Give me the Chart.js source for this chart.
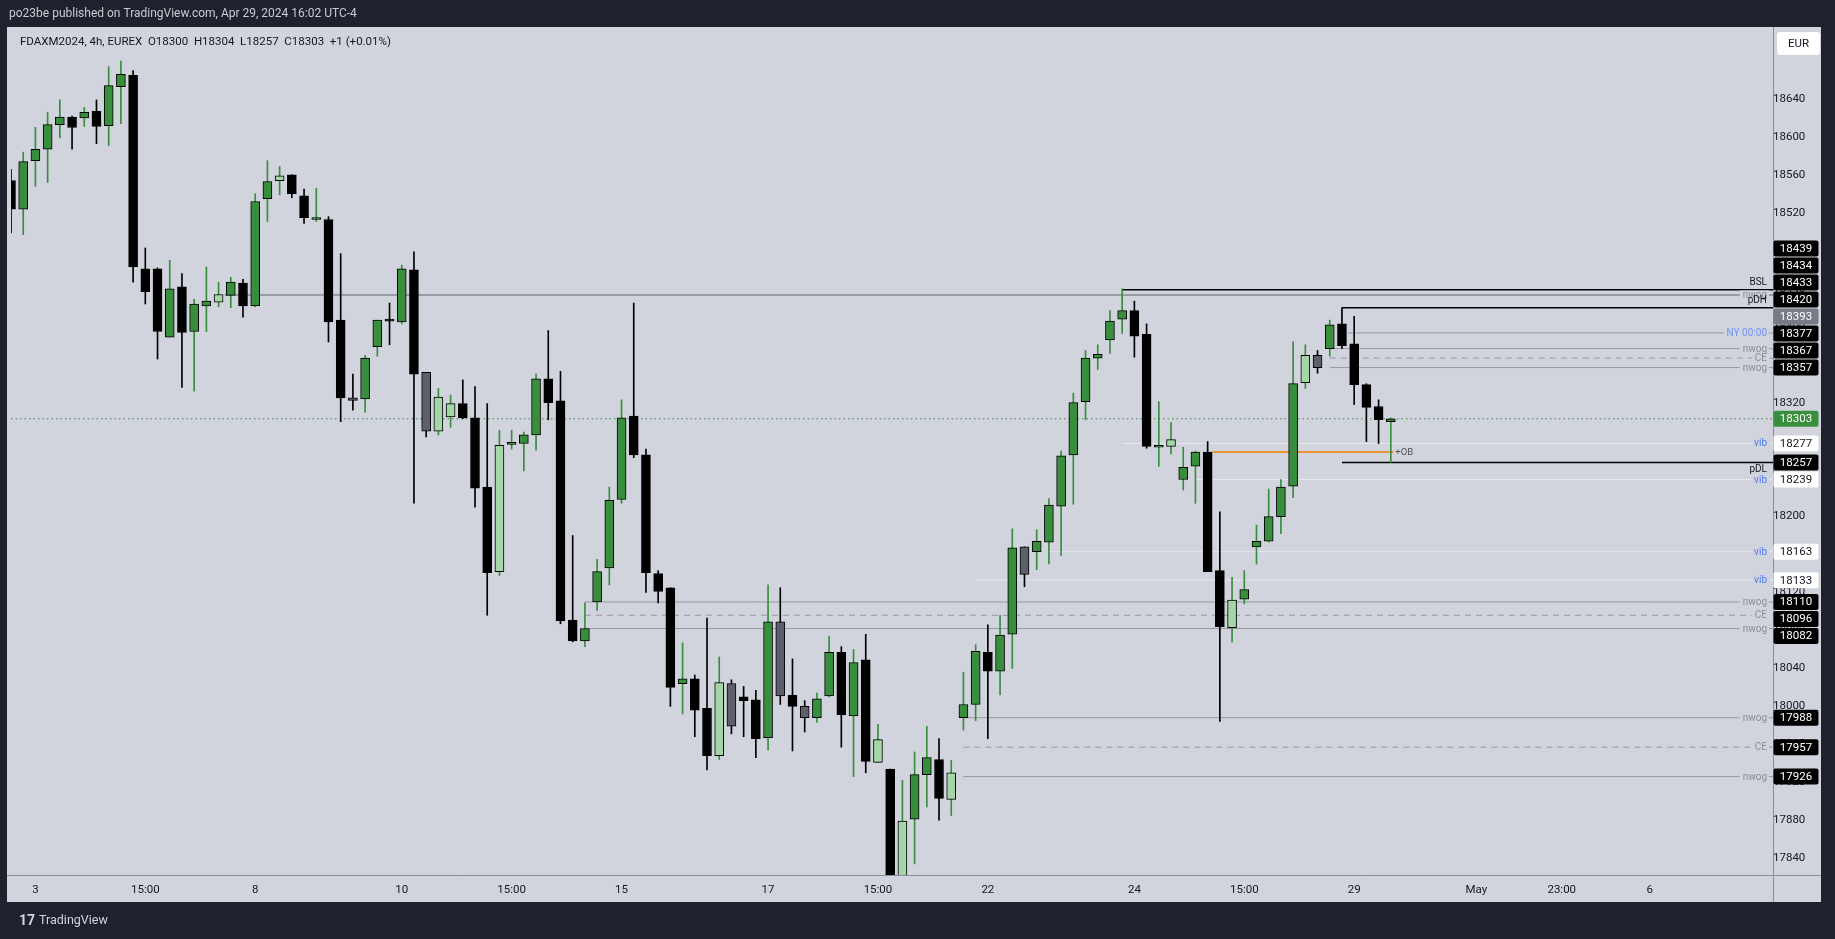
<!DOCTYPE html>
<html>
<head>
<meta charset="utf-8">
<title>FDAXM2024, 4h, EUREX</title>
<script src="https://cdn.jsdelivr.net/npm/chart.js@4.4.1/dist/chart.umd.min.js"></script>
<style>
  html, body { margin: 0; padding: 0; background: #1e222d; overflow: hidden; }
  canvas { display: block; }
</style>
</head>
<body>
<canvas id="chart" width="1835" height="939"></canvas>
<script>
// 4h candles, Apr 2 (last bar) .. Apr 29 2024
const opens = [
  18554, 18524, 18575, 18587, 18613, 18621, 18620, 18627, 18612, 18653,
  18665, 18461, 18461, 18389, 18442, 18395, 18422, 18426, 18433, 18446,
  18422, 18535, 18554, 18560, 18538, 18513, 18513, 18407, 18325, 18324,
  18379, 18407, 18405, 18460, 18352, 18290, 18305, 18319, 18304, 18231,
  18142, 18276, 18277, 18286, 18345, 18322, 18091, 18069, 18110, 18146,
  18218, 18306, 18265, 18140, 18125, 18024, 18029, 17998, 17948, 18024,
  18010, 18007, 17967, 18089, 18012, 18000, 17988, 18011, 18057, 17990,
  18049, 17941, 17934, 17815, 17881, 17928, 17944, 17902, 17988, 18002,
  18057, 18037, 18076, 18168, 18163, 18173, 18211, 18265, 18321, 18367,
  18386, 18408, 18417, 18392, 18273, 18274, 18239, 18253, 18268, 18143,
  18083, 18113, 18168, 18174, 18200, 18232, 18341, 18370, 18377, 18403,
  18382, 18339, 18316, 18300
];
const highs = [
  18566, 18584, 18610, 18626, 18639, 18622, 18631, 18639, 18674, 18680,
  18670, 18483, 18462, 18470, 18456, 18429, 18463, 18447, 18452, 18450,
  18540, 18575, 18569, 18560, 18545, 18546, 18516, 18477, 18350, 18370,
  18407, 18425, 18465, 18479, 18352, 18335, 18328, 18344, 18337, 18319,
  18291, 18291, 18289, 18350, 18396, 18353, 18180, 18109, 18155, 18231,
  18323, 18425, 18271, 18143, 18125, 18067, 18033, 18093, 18052, 18028,
  18021, 18017, 18128, 18125, 18050, 18006, 18014, 18074, 18063, 18060,
  18076, 17981, 17934, 17922, 17952, 17979, 17966, 17943, 18036, 18065,
  18086, 18096, 18187, 18168, 18186, 18219, 18269, 18330, 18375, 18381,
  18417, 18440, 18427, 18403, 18321, 18299, 18273, 18269, 18279, 18205,
  18136, 18143, 18191, 18229, 18239, 18384, 18381, 18375, 18407, 18420,
  18411, 18340, 18323, 18304
];
const lows = [
  18499, 18497, 18548, 18552, 18599, 18587, 18611, 18593, 18591, 18614,
  18447, 18424, 18366, 18389, 18336, 18332, 18395, 18421, 18420, 18410,
  18421, 18511, 18539, 18536, 18509, 18511, 18384, 18300, 18312, 18310,
  18369, 18381, 18403, 18214, 18284, 18286, 18294, 18303, 18210, 18096,
  18138, 18271, 18248, 18270, 18302, 18087, 18068, 18063, 18101, 18128,
  18214, 18262, 18120, 18109, 18000, 17992, 17968, 17933, 17944, 17971,
  17968, 17946, 17954, 18002, 17953, 17973, 17983, 18010, 17957, 17926,
  17930, 17941, 17800, 17805, 17834, 17894, 17880, 17885, 17975, 17985,
  17966, 18012, 18040, 18126, 18144, 18150, 18159, 18213, 18302, 18355,
  18372, 18393, 18368, 18272, 18253, 18266, 18228, 18214, 18142, 17984,
  18068, 18108, 18150, 18173, 18182, 18220, 18335, 18351, 18369, 18377,
  18318, 18279, 18277, 18257
];
const closes = [
  18524, 18574, 18587, 18613, 18621, 18610, 18626, 18611, 18654, 18666,
  18463, 18437, 18395, 18440, 18394, 18424, 18427, 18434, 18447, 18422,
  18532, 18553, 18559, 18540, 18515, 18513.5, 18405, 18325, 18322.5, 18367,
  18407, 18406, 18461, 18350, 18290, 18326, 18319, 18304, 18230, 18141,
  18275, 18276.5, 18286, 18345, 18320, 18090, 18069, 18082, 18142, 18217,
  18304, 18265, 18141, 18121, 18020, 18029, 17996, 17948, 18025, 17979,
  18006, 17966, 18089, 18011, 18000, 17988, 18008, 18057, 17991, 18046,
  17942, 17965, 17815, 17879, 17928, 17946, 17903, 17930, 18002, 18058,
  18037, 18075, 18167, 18139, 18174, 18212, 18264, 18320, 18367, 18371,
  18406, 18417, 18390, 18274, 18275, 18281, 18252, 18268, 18142, 18084,
  18112, 18123, 18174, 18200, 18231, 18340, 18370, 18357, 18402, 18380,
  18339, 18315, 18302, 18303
];
// inside bars get the pale colours
const insideUp = [17, 22, 35, 36, 40, 58, 71, 73, 77, 95, 100, 106];
const insideDown = [28, 34, 59, 63, 65, 83, 107];

// time axis (bar index) and price axis ticks
const xTickPos = [2, 11, 20, 32, 41, 50, 62, 71, 80, 92, 101, 110, 120, 127, 134.2];
const xTickText = ['3', '15:00', '8', '10', '15:00', '15', '17', '15:00', '22', '24', '15:00', '29', 'May', '23:00', '6'];
const yTicks = [17840, 17880, 17920, 17960, 18000, 18040, 18080, 18120, 18160, 18200, 18240, 18280,
  18320, 18360, 18400, 18440, 18480, 18520, 18560, 18600, 18640];

// drawn levels: price, first bar
const nwogPrices = [18434, 18433, 18377, 18357, 18110, 18082, 17988, 17926];
const nwogStarts = [17.5, 17.5, 108, 108, 47, 47, 78, 78];
const nwogLabelled = [false, true, true, true, true, true, true, true];
const cePrices = [18367, 18096, 17957];
const ceStarts = [108, 47, 78];
const vibPrices = [18277, 18239, 18163, 18133];
const vibStarts = [91, 97, 85, 79];
const keyNames = ['BSL', 'pDH', 'pDL'];
const keyPrices = [18439, 18420, 18257];
const keyStarts = [91, 109, 109];
const keySide = ['above', 'above', 'below'];
const nyPrice = 18393.5;
const nyStart = 109.5;
const obPrice = 18268;
const obStart = 98.4;
const obEnd = 113.2;
const lastPrice = 18303;

// price-axis badges
const badgePrices = [18439, 18434, 18433, 18420, 18393, 18377, 18367, 18357, 18303, 18277,
  18257, 18239, 18163, 18133, 18110, 18096, 18082, 17988, 17957, 17926];
const badgeKinds = ['dark', 'dark', 'dark', 'dark', 'grey', 'dark', 'dark', 'dark', 'last', 'light',
  'dark', 'light', 'light', 'light', 'dark', 'dark', 'dark', 'dark', 'dark', 'dark'];

const X_MIN = 0, X_MAX = 144.3;
const Y_MIN = 17822.3, Y_MAX = 18714.8;
const PANEL = '#d1d4dc';
const FONT = 'Roboto, "Liberation Sans", sans-serif';

const idx = opens.map((_, i) => i);
const kind = idx.map(i => insideUp.includes(i) ? 'lite'
  : insideDown.includes(i) ? 'slate'
  : (closes[i] >= opens[i] ? 'up' : 'down'));
const bodyColor = { up: '#388e3c', down: '#000000', lite: '#a5d6a7', slate: '#5d606b' };
const wickColor = { up: '#388e3c', down: '#000000', lite: '#388e3c', slate: '#000000' };

function level(price, start, color, dash, width) {
  return {
    type: 'line',
    data: [{ x: start, y: price }, { x: X_MAX, y: price }],
    borderColor: color,
    borderWidth: width || 1,
    borderDash: dash || [],
    pointRadius: 0,
    clip: 0,
    order: 5
  };
}

const datasets = [];
datasets.push({
  type: 'bar', data: idx.map(i => ({ x: i, y: [lows[i], highs[i]] })),
  backgroundColor: idx.map(i => wickColor[kind[i]]),
  barThickness: 1, grouped: false, clip: 0, order: 1
});
datasets.push({
  type: 'bar', data: idx.map(i => ({ x: i, y: [opens[i], closes[i]] })),
  backgroundColor: idx.map(i => bodyColor[kind[i]]),
  borderColor: '#000000', borderWidth: 1, borderSkipped: false,
  barThickness: 9, minBarLength: 2, grouped: false, clip: 0, order: 0
});
nwogPrices.forEach((p, i) => datasets.push(level(p, nwogStarts[i], '#9598a1')));
cePrices.forEach((p, i) => datasets.push(level(p, ceStarts[i], '#9598a1', [6, 5])));
vibPrices.forEach((p, i) => datasets.push(level(p, vibStarts[i], '#e6e8ee')));
datasets.push(level(nyPrice, nyStart, '#9598a1'));
keyPrices.forEach((p, i) => datasets.push(level(p, keyStarts[i], '#000000', null, 1.5)));
datasets.push({
  type: 'line', data: [{ x: obStart, y: obPrice }, { x: obEnd, y: obPrice }],
  borderColor: '#f57c00', borderWidth: 1.5, pointRadius: 0, clip: 0, order: 4
});
datasets.push({
  type: 'line', data: [{ x: X_MIN, y: lastPrice }, { x: X_MAX, y: lastPrice }],
  borderColor: '#388e3c', borderWidth: 1, borderDash: [1.5, 3], pointRadius: 0, clip: 0, order: 6
});

function rightLabel(ctx, area, y, text, color, side) {
  ctx.font = '10px ' + FONT;
  const w = ctx.measureText(text).width;
  const xr = area.right - 6;
  if (side === 'mid') {
    ctx.fillStyle = PANEL;
    ctx.fillRect(xr - w - 3, y - 5, w + 5, 10);
    ctx.textBaseline = 'middle';
    ctx.fillStyle = color;
    ctx.fillText(text, xr - w, y + 0.5);
  } else if (side === 'above') {
    ctx.textBaseline = 'bottom';
    ctx.fillStyle = color;
    ctx.fillText(text, xr - w, y - 2);
  } else {
    ctx.textBaseline = 'top';
    ctx.fillStyle = color;
    ctx.fillText(text, xr - w, y + 2);
  }
}

const overlay = {
  id: 'overlay',
  beforeDraw(chart) {
    const c = chart.ctx;
    c.save();
    c.fillStyle = '#1e222d';
    c.fillRect(0, 0, chart.width, chart.height);
    c.fillStyle = PANEL;
    c.fillRect(7, 27, 1814, 875);
    c.restore();
  },
  afterDatasetsDraw(chart) {
    const c = chart.ctx, a = chart.chartArea, ys = chart.scales.y, xs = chart.scales.x;
    c.save();
    nwogPrices.forEach((p, i) => { if (nwogLabelled[i]) rightLabel(c, a, ys.getPixelForValue(p), 'nwog', '#8a8d96', 'mid'); });
    cePrices.forEach(p => rightLabel(c, a, ys.getPixelForValue(p), 'CE', '#8a8d96', 'mid'));
    vibPrices.forEach(p => rightLabel(c, a, ys.getPixelForValue(p), 'vib', '#4d7cf2', 'mid'));
    rightLabel(c, a, ys.getPixelForValue(nyPrice), 'NY 00:00', '#6f93f6', 'mid');
    keyNames.forEach((n, i) => rightLabel(c, a, ys.getPixelForValue(keyPrices[i]), n, '#131722', keySide[i]));
    c.font = '9.5px ' + FONT;
    c.textBaseline = 'middle';
    c.fillStyle = '#50535e';
    c.fillText('+OB', xs.getPixelForValue(obEnd) + 2, ys.getPixelForValue(obPrice) + 0.5);
    c.restore();
  },
  afterDraw(chart) {
    const c = chart.ctx, a = chart.chartArea, ys = chart.scales.y;
    c.save();
    // pane separators
    c.strokeStyle = '#8a8d96';
    c.lineWidth = 1;
    c.beginPath();
    c.moveTo(a.right + 0.5, 27); c.lineTo(a.right + 0.5, 902);
    c.moveTo(7, a.bottom + 0.5); c.lineTo(1821, a.bottom + 0.5);
    c.stroke();

    // price badges, pushed apart away from the last price
    const h = 17;
    const items = badgePrices.map((p, i) => ({ p, k: badgeKinds[i], y: ys.getPixelForValue(p) }));
    const up = items.filter(t => t.p > lastPrice).sort((m, n) => n.y - m.y);
    for (let i = 1; i < up.length; i++) up[i].y = Math.min(up[i].y, up[i - 1].y - h);
    const down = items.filter(t => t.p <= lastPrice).sort((m, n) => m.y - n.y);
    for (let i = 1; i < down.length; i++) down[i].y = Math.max(down[i].y, down[i - 1].y + h);
    const styles = {
      dark: ['#000000', '#ffffff'], grey: ['#787b86', '#ffffff'],
      last: ['#388e3c', '#ffffff'], light: ['#ffffff', '#131722']
    };
    c.font = '11.5px ' + FONT;
    c.textAlign = 'center';
    c.textBaseline = 'middle';
    items.forEach(t => {
      const [bg, fg] = styles[t.k];
      c.fillStyle = bg;
      c.beginPath();
      c.roundRect(a.right + 0.5, t.y - h / 2 + 0.5, 45, h - 1, 2);
      c.fill();
      c.fillStyle = fg;
      c.fillText(String(t.p), a.right + 23, t.y + 0.5);
    });

    // currency box
    c.fillStyle = '#ffffff';
    c.beginPath();
    c.roundRect(1777, 32, 43, 23, 3);
    c.fill();
    c.fillStyle = '#131722';
    c.fillText('EUR', 1798.5, 44);

    // texts
    c.textAlign = 'left';
    c.font = '12px ' + FONT;
    c.fillStyle = '#c8cbd3';
    c.fillText('po23be published on TradingView.com, Apr 29, 2024 16:02 UTC-4', 9, 14);
    c.fillStyle = '#131722';
    c.font = '11.5px ' + FONT;
    c.fillText('FDAXM2024, 4h, EUREX  O18300  H18304  L18257  C18303  +1 (+0.01%)', 20, 42);
    c.fillStyle = '#d1d4dc';
    c.font = 'bold 14px ' + FONT;
    c.fillText('17', 19, 921);
    c.font = '12.5px ' + FONT;
    c.fillText('TradingView', 39, 921);
    c.restore();
  }
};

new Chart(document.getElementById('chart'), {
  type: 'bar',
  data: { datasets: datasets },
  options: {
    responsive: false,
    animation: false,
    devicePixelRatio: 1,
    layout: { padding: { left: 11, top: 28, right: 14, bottom: 37 } },
    plugins: { legend: { display: false }, tooltip: { enabled: false } },
    scales: {
      x: {
        type: 'linear', min: X_MIN, max: X_MAX, offset: false,
        grid: { display: false, drawTicks: false }, border: { display: false },
        afterBuildTicks: s => { s.ticks = xTickPos.map(v => ({ value: v })); },
        afterFit: s => { s.height = 27; },
        ticks: {
          autoSkip: false, maxRotation: 0, padding: 8,
          color: '#131722', font: { family: FONT, size: 11.5 },
          callback: (v, i) => xTickText[i]
        }
      },
      y: {
        position: 'right', min: Y_MIN, max: Y_MAX,
        grid: { display: false, drawTicks: false }, border: { display: false },
        afterBuildTicks: s => { s.ticks = yTicks.map(v => ({ value: v })); },
        afterFit: s => { s.width = 48; },
        ticks: {
          crossAlign: 'center', padding: 0,
          color: '#131722', font: { family: FONT, size: 11.5 },
          callback: v => String(v)
        }
      }
    }
  },
  plugins: [overlay]
});
</script>
</body>
</html>
